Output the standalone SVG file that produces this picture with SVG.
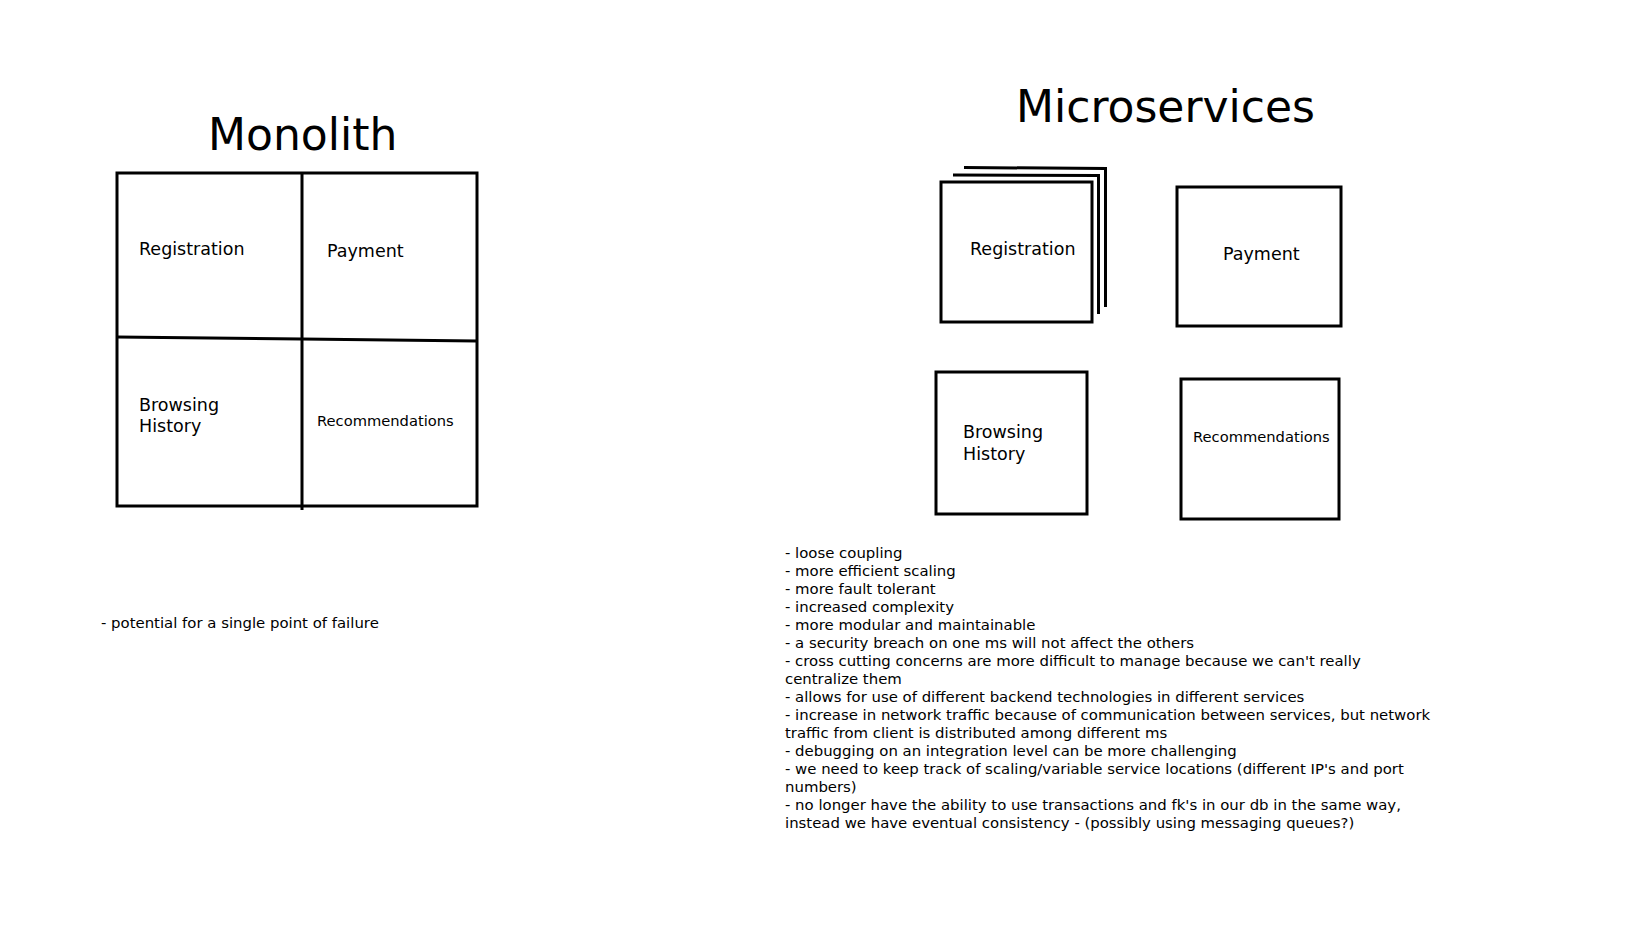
<svg xmlns="http://www.w3.org/2000/svg" width="1648" height="927" viewBox="0 0 1648 927">
<style>
.b{fill:none;stroke:#000;stroke-width:3}
.t{font-family:"DejaVu Sans",Verdana,sans-serif;fill:#000}
.title{font-size:44px}
.lbl{font-size:17.5px}
.sm{font-size:14.7px}
.note{font-size:14.9px}
</style>
<rect width="1648" height="927" fill="#fff"/>
<g id="monolith">
<text class="t title" x="208" y="150">Monolith</text>
<rect class="b" x="117" y="173" width="360" height="333"/>
<line class="b" x1="302" y1="173" x2="302" y2="510"/>
<polyline class="b" points="117,337 302,339 477,341"/>
<text class="t lbl" x="139" y="255">Registration</text>
<text class="t lbl" x="327" y="257">Payment</text>
<text class="t lbl" x="139" y="411">Browsing</text>
<text class="t lbl" x="139" y="432">History</text>
<text class="t sm" x="317" y="426">Recommendations</text>
<text class="t note" x="101" y="628">- potential for a single point of failure</text>
</g>
<g id="microservices-title">
<text class="t title" x="1016" y="122">Microservices</text>
</g>
<g id="ms-registration">
<polyline class="b" points="964,167.5 1105.5,168.5 1105.5,307"/>
<polyline class="b" points="953,175 1098.5,175.5 1098.5,314"/>
<rect class="b" x="941" y="182" width="151" height="140"/>
<text class="t lbl" x="970" y="255">Registration</text>
</g>
<g id="ms-payment">
<rect class="b" x="1177" y="187" width="164" height="139"/>
<text class="t lbl" x="1223" y="260">Payment</text>
</g>
<g id="ms-browsing">
<rect class="b" x="936" y="372" width="151" height="142"/>
<text class="t lbl" x="963" y="438">Browsing</text>
<text class="t lbl" x="963" y="460">History</text>
</g>
<g id="ms-recommendations">
<rect class="b" x="1181" y="379" width="158" height="140"/>
<text class="t sm" x="1193" y="442">Recommendations</text>
</g>
<g id="ms-notes" class="t note">
<text x="785" y="558">- loose coupling</text>
<text x="785" y="576">- more efficient scaling</text>
<text x="785" y="594">- more fault tolerant</text>
<text x="785" y="612">- increased complexity</text>
<text x="785" y="630">- more modular and maintainable</text>
<text x="785" y="648">- a security breach on one ms will not affect the others</text>
<text x="785" y="666">- cross cutting concerns are more difficult to manage because we can't really</text>
<text x="785" y="684">centralize them</text>
<text x="785" y="702">- allows for use of different backend technologies in different services</text>
<text x="785" y="720">- increase in network traffic because of communication between services, but network</text>
<text x="785" y="738">traffic from client is distributed among different ms</text>
<text x="785" y="756">- debugging on an integration level can be more challenging</text>
<text x="785" y="774">- we need to keep track of scaling/variable service locations (different IP's and port</text>
<text x="785" y="792">numbers)</text>
<text x="785" y="810">- no longer have the ability to use transactions and fk's in our db in the same way,</text>
<text x="785" y="828">instead we have eventual consistency - (possibly using messaging queues?)</text>
</g>
<g id="connectors"/>
</svg>
